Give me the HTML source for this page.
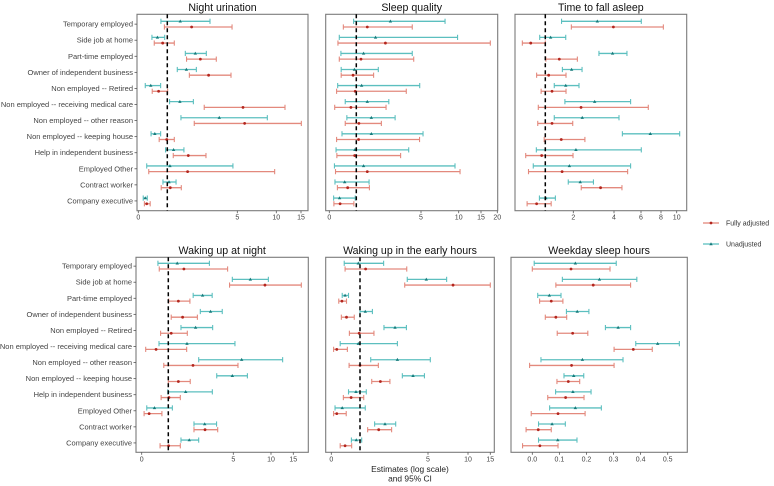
<!DOCTYPE html>
<html><head><meta charset="utf-8">
<style>
html,body{margin:0;padding:0;background:#fff;}
svg{display:block;font-family:"Liberation Sans",Arial,sans-serif;}
</style></head>
<body>
<svg id="chart" width="774" height="486" viewBox="0 0 774 486" xmlns="http://www.w3.org/2000/svg"></svg>
<script>
const categories = ["Temporary employed","Side job at home","Part-time employed","Owner of independent business","Non employed -- Retired","Non employed -- receiving medical care","Non employed -- other reason","Non employed -- keeping house","Help in independent business","Employed Other","Contract worker","Company executive"];
const panelTitles = ["Night urination","Sleep quality","Time to fall asleep","Waking up at night","Waking up in the early hours","Weekday sleep hours"];
const tickValues = [[0,5,10,15],[0,5,10,15,20],[2,4,6,8,10],[0,5,10,15],[0,5,10,15],[0,0.1,0.2,0.3,0.4,0.5]];
const tickLabels = [["0","5","10","15"],["0","5","10","15","20"],["2","4","6","8","10"],["0","5","10","15"],["0","5","10","15"],["0.0","0.1","0.2","0.3","0.4","0.5"]];
const refLine = [1,1,1,1,1,null];
// each row: [lo, est, hi]
const unadj1 = [[0.78,1.74,3.44],[0.47,0.66,0.91],[2.03,2.60,3.23],[1.57,2.09,2.66],[0.24,0.43,0.77],[1.13,1.72,2.49],[1.78,3.97,8.85],[0.44,0.57,0.77],[0.94,1.36,1.95],[0.29,1.15,4.75],[0.85,1.10,1.50],[0.17,0.24,0.31]];
const full1 = [[0.90,2.39,4.70],[0.55,0.84,1.40],[2.10,2.89,3.80],[2.26,3.36,4.64],[0.48,0.70,1.02],[3.11,5.73,11.76],[2.54,5.94,15.07],[0.72,0.98,1.40],[1.34,2.20,3.21],[0.36,2.16,9.79],[0.79,1.17,1.80],[0.21,0.29,0.41]];
const unadj2 = [[0.90,3.11,8.19],[0.37,2.19,9.85],[0.43,1.45,4.46],[0.44,0.93,2.36],[0.31,1.33,4.92],[0.59,1.68,3.01],[0.65,1.93,3.40],[0.47,1.93,5.27],[0.25,0.95,4.24],[0.19,1.45,9.51],[0.21,0.57,1.79],[0.16,0.38,0.96]];
const full2 = [[0.52,1.68,4.46],[0.32,2.80,17.86],[0.37,1.29,4.55],[0.44,0.88,2.07],[0.27,0.96,4.09],[0.20,0.80,2.84],[0.59,1.16,2.55],[0.27,1.14,4.91],[0.28,0.94,3.74],[0.23,1.68,10.30],[0.30,0.68,1.81],[0.17,0.40,0.91]];
const unadj3 = [[1.58,3.18,6.03],[0.80,1.19,1.73],[3.26,3.93,4.96],[1.61,1.94,2.43],[1.32,1.73,2.28],[1.70,3.05,5.23],[1.32,2.44,4.37],[4.62,6.93,10.38],[0.68,2.13,6.03],[0.57,1.86,5.23],[1.82,2.34,2.99],[0.79,1.02,1.36]];
const full3 = [[1.93,3.97,8.30],[0.18,0.48,1.00],[1.02,1.50,2.20],[0.69,1.12,1.74],[0.85,1.24,1.74],[0.75,2.38,6.73],[0.73,1.24,1.98],[0.96,1.57,2.57],[0.30,0.87,1.99],[0.40,1.60,5.01],[2.39,3.34,4.59],[0.35,0.69,1.21]];
const unadj4 = [[0.61,1.55,3.53],[4.94,7.26,9.65],[2.53,3.11,3.70],[2.97,3.60,4.32],[1.78,2.68,3.73],[0.65,2.15,5.22],[2.87,6.11,12.61],[3.98,4.94,6.87],[0.98,2.07,3.71],[0.19,0.48,1.25],[2.58,3.24,3.97],[1.78,2.29,2.87]];
const full4 = [[0.66,1.96,4.65],[4.77,9.20,16.8],[1.02,1.62,2.33],[1.18,1.88,2.79],[0.71,1.18,2.17],[0.15,0.54,2.13],[0.83,2.52,5.62],[1.00,1.62,2.35],[0.73,1.04,1.74],[0.09,0.28,0.76],[2.58,3.26,4.04],[0.69,1.02,1.74]];
const unadj5 = [[0.45,0.94,2.39],[3.78,4.90,7.33],[0.38,0.48,0.60],[1.00,1.31,1.73],[2.41,3.06,3.73],[0.31,0.94,3.20],[1.63,3.20,5.29],[3.49,4.12,4.79],[0.60,0.86,1.37],[0.13,0.38,1.31],[1.86,2.47,3.10],[0.70,0.87,1.10]];
const full5 = [[0.48,1.33,3.75],[3.63,8.13,15.0],[0.26,0.37,0.53],[0.35,0.53,0.80],[0.63,0.97,1.82],[0.08,0.19,0.56],[0.62,1.00,2.08],[1.69,2.20,2.76],[0.42,0.69,1.22],[0.08,0.19,0.52],[1.45,2.10,2.86],[0.31,0.48,0.71]];
const unadj6 = [[0.007,0.159,0.310],[0.111,0.248,0.386],[0.020,0.063,0.106],[0.126,0.166,0.209],[0.270,0.317,0.363],[0.382,0.463,0.543],[0.032,0.185,0.335],[0.117,0.153,0.190],[0.086,0.150,0.217],[0.064,0.159,0.255],[0.023,0.073,0.122],[0.023,0.094,0.165]];
const full6 = [[0.000,0.143,0.287],[0.087,0.225,0.363],[0.027,0.070,0.113],[0.048,0.087,0.127],[0.092,0.149,0.205],[0.302,0.373,0.443],[-0.010,0.145,0.302],[0.091,0.133,0.175],[0.057,0.123,0.191],[-0.004,0.095,0.195],[-0.023,0.022,0.070],[-0.036,0.028,0.095]];
const unadjSeries = [unadj1,unadj2,unadj3,unadj4,unadj5,unadj6];
const fullSeries = [full1,full2,full3,full4,full5,full6];

// axis layout (scale knots: value -> pixel)
const panels = [
 {x0:137,x1:308,y0:14.3,y1:210.7,rowY:21.3,knots:[[0,138.3],[1,167.3],[5,237.3],[10,276.3],[15,301]]},
 {x0:325.7,x1:497.7,y0:14.3,y1:210.7,rowY:21.3,knots:[[0,329.3],[1,356.3],[5,421],[10,458.7],[15,481],[20,497.3]]},
 {x0:515,x1:686.7,y0:14.3,y1:210.7,rowY:21.3,knots:[[0,517.3],[1,545.3],[2,573.3],[4,614],[6,641],[8,661],[10,676.7]]},
 {x0:136,x1:308.3,y0:257.3,y1:452.3,rowY:263.3,knots:[[0,141.7],[1,168.3],[5,233.3],[10,271],[15,293.3]]},
 {x0:325.7,x1:494.3,y0:257.3,y1:452.3,rowY:263.3,knots:[[0,331.3],[1,360],[5,428],[10,468],[15,490.3]]},
 {x0:511,x1:687.3,y0:257.3,y1:452.3,rowY:263.3,knots:[[0,532.3],[0.5,667.7]]}
];
const rowStep = 16.07, pairGap = 5.7;
const RED_LINE="#e3897d", RED_PT="#b3261e", TEAL_LINE="#5cbfbf", TEAL_PT="#167a7a";

function scale(p, v){
  const k=p.knots;
  let i=0;
  while(i<k.length-2 && v>k[i+1][0]) i++;
  const a=k[i], b=k[i+1];
  return a[1]+(v-a[0])*(b[1]-a[1])/(b[0]-a[0]);
}
const NS="http://www.w3.org/2000/svg";
const svg=document.getElementById('chart');
function el(tag, attrs, parent){
  const e=document.createElementNS(NS,tag);
  for(const k in attrs) e.setAttribute(k, attrs[k]);
  (parent||svg).appendChild(e); return e;
}
function drawInterval(g, p, row, y, color, ptColor, tri){
  const xl=scale(p,row[0]), xe=scale(p,row[1]), xh=scale(p,row[2]);
  const l=el('line',{x1:xl,x2:xh,y1:y,y2:y,stroke:color,'stroke-width':1.3},g);
  
  
  [xl,xh].forEach(x=>{
    const c=el('line',{x1:x,x2:x,y1:y-2.6,y2:y+2.6,stroke:color,'stroke-width':1.1},g);
    
    
  });
  let m;
  if(tri){ m=el('path',{d:`M${xe},${y-1.8} L${xe+1.7},${y+1.2} L${xe-1.7},${y+1.2} Z`,fill:ptColor},g); }
  else { m=el('circle',{cx:xe,cy:y,r:1.4,fill:ptColor},g); }
  
  
}
panels.forEach((p,pi)=>{
  const g=el('g',{});
  
  
  const fr=el('rect',{x:p.x0,y:p.y0,width:p.x1-p.x0,height:p.y1-p.y0,fill:'none',stroke:'#7a7a7a','stroke-width':1.1},g);
  
  
  const t=el('text',{x:(p.x0+p.x1)/2,y:p.y0-3.5,'text-anchor':'middle','font-size':10.6,fill:'#111'},g);
  t.textContent=panelTitles[pi];
  
  
  tickValues[pi].forEach((v,ti)=>{
    const x=scale(p,v);
    const tk=el('line',{x1:x,x2:x,y1:p.y1,y2:p.y1+2.5,stroke:'#555','stroke-width':0.8},g);
    
    
    const tl=el('text',{x:x,y:p.y1+9,'text-anchor':'middle','font-size':7,fill:'#444'},g);
    tl.textContent=tickLabels[pi][ti];
    
    
  });
  if(pi===0||pi===3){
    categories.forEach((c,ci)=>{
      const y=p.rowY+ci*rowStep+pairGap/2;
      const tk=el('line',{x1:p.x0-2.5,x2:p.x0,y1:y,y2:y,stroke:'#555','stroke-width':0.8},g);
      
      
      const tl=el('text',{x:p.x0-4,y:y+2.5,'text-anchor':'end','font-size':7.5,fill:'#444'},g);
      tl.textContent=c;
      
      
    });
  }
  unadjSeries[pi].forEach((row,ri)=>drawInterval(g,p,row,p.rowY+ri*rowStep,TEAL_LINE,TEAL_PT,true));
  fullSeries[pi].forEach((row,ri)=>drawInterval(g,p,row,p.rowY+ri*rowStep+pairGap,RED_LINE,RED_PT,false));
  if(refLine[pi]!==null){
    const x=scale(p,refLine[pi]);
    const rl=el('line',{x1:x,x2:x,y1:p.y0,y2:p.y1,stroke:'#000','stroke-width':1.5,'stroke-dasharray':'4,3'},g);
    
    
  }
});
// x-axis title
const xt1=el('text',{x:410,y:472,'text-anchor':'middle','font-size':8.4,fill:'#222'});
xt1.textContent='Estimates (log scale)';


const xt2=el('text',{x:410,y:481.5,'text-anchor':'middle','font-size':8.4,fill:'#222'});
xt2.textContent='and 95% CI';


// legend
const legend=[["Fully adjusted",RED_LINE,RED_PT,false,223],["Unadjusted",TEAL_LINE,TEAL_PT,true,244]];
legend.forEach(l=>{
  const g=el('g',{});
  
  
  const ln=el('line',{x1:703,x2:719,y1:l[4],y2:l[4],stroke:l[1],'stroke-width':1.3},g);
  
  
  if(l[3]) el('path',{d:`M711,${l[4]-1.8} L712.7,${l[4]+1.2} L709.3,${l[4]+1.2} Z`,fill:l[2]},g);
  else el('circle',{cx:711,cy:l[4],r:1.4,fill:l[2]},g);
  const t=el('text',{x:726,y:l[4]+2.4,'font-size':7,fill:'#333'},g);
  t.textContent=l[0];
  
  
});
</script>
</body></html>
